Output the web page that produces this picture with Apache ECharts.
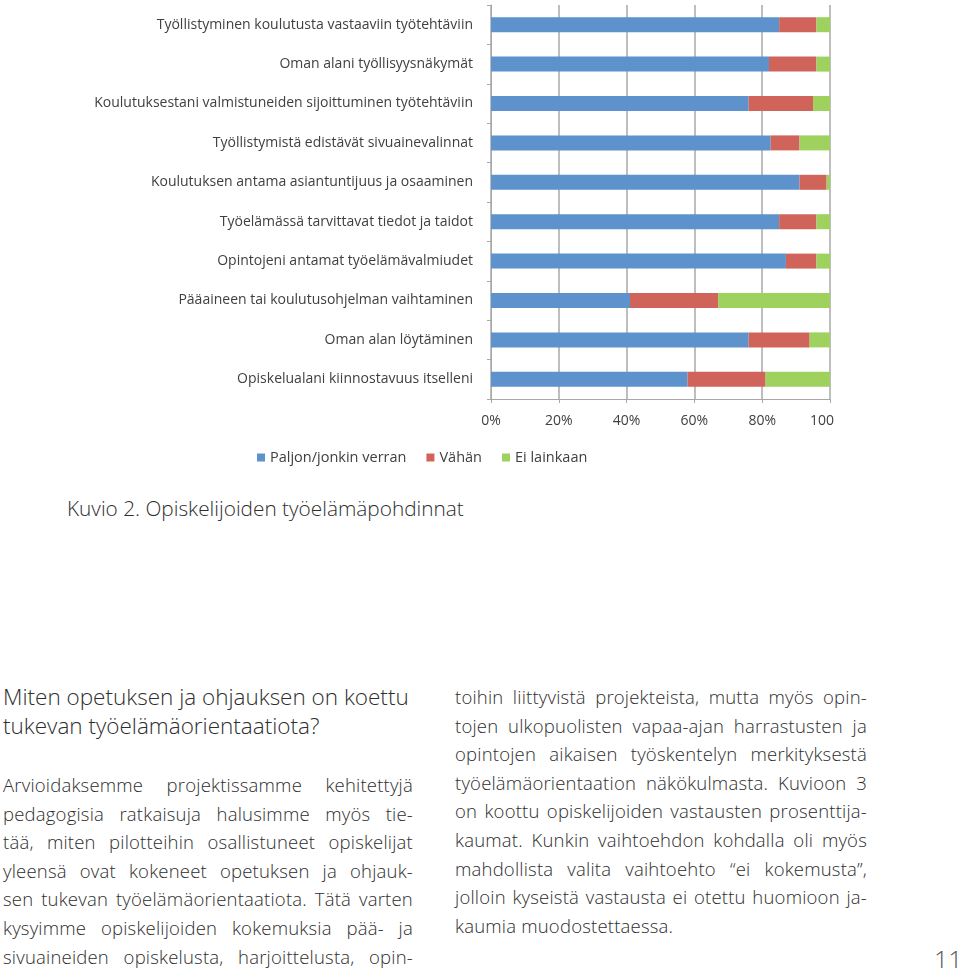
<!DOCTYPE html>
<html>
<head>
<meta charset="utf-8">
<script src="https://cdn.jsdelivr.net/npm/echarts@6/dist/echarts.min.js"></script>
<style>
  html, body { margin: 0; padding: 0; background: #fff; }
  body { width: 960px; height: 968px; position: relative; overflow: hidden; font-family: 'Open Sans', Lato, sans-serif; color: #2e2e2e; }
  #chart { position: absolute; left: 0; top: 0; width: 960px; height: 470px; }
  .caption { position: absolute; left: 67px; top: 494px; font-size: 20.8px; font-weight: 300; }
  .col { position: absolute; width: 410px; }
  .col div { height: 28.6px; line-height: 28.6px; white-space: nowrap; }
  .j { text-align: justify; text-align-last: justify; }
  .heading { left: 3px; top: 682px; font-size: 22.5px; font-weight: 300; }
  .heading div { height: 29px; line-height: 29px; }
  .body { font-size: 18.5px; font-weight: 300; letter-spacing: 0.2px; }
  .left { left: 3px; top: 771px; }
  .right { left: 455px; top: 683px; width: 412px; }
  .pageno { position: absolute; left: 934px; top: 942px; font-size: 25px; font-weight: 300; color: #555; }
</style>
</head>
<body>
<div id="chart"></div>
<div class="caption">Kuvio 2. Opiskelijoiden työelämäpohdinnat</div>
<div class="col heading">
  <div>Miten opetuksen ja ohjauksen on koettu</div>
  <div>tukevan työelämäorientaatiota?</div>
</div>
<div class="col body left">
  <div class="j">Arvioidaksemme projektissamme kehitettyjä</div>
  <div class="j">pedagogisia ratkaisuja halusimme myös tie-</div>
  <div class="j">tää, miten pilotteihin osallistuneet opiskelijat</div>
  <div class="j">yleensä ovat kokeneet opetuksen ja ohjauk-</div>
  <div class="j">sen tukevan työelämäorientaatiota. Tätä varten</div>
  <div class="j">kysyimme opiskelijoiden kokemuksia pää- ja</div>
  <div class="j">sivuaineiden opiskelusta, harjoittelusta, opin-</div>
</div>
<div class="col body right">
  <div class="j">toihin liittyvistä projekteista, mutta myös opin-</div>
  <div class="j">tojen ulkopuolisten vapaa-ajan harrastusten ja</div>
  <div class="j">opintojen aikaisen työskentelyn merkityksestä</div>
  <div class="j">työelämäorientaation näkökulmasta. Kuvioon 3</div>
  <div class="j">on koottu opiskelijoiden vastausten prosenttija-</div>
  <div class="j">kaumat. Kunkin vaihtoehdon kohdalla oli myös</div>
  <div class="j">mahdollista valita vaihtoehto “ei kokemusta”,</div>
  <div class="j">jolloin kyseistä vastausta ei otettu huomioon ja-</div>
  <div>kaumia muodostettaessa.</div>
</div>
<div class="pageno">11</div>
<script>
// kysymykset ylhäältä alas
const categories = [
  'Työllistyminen koulutusta vastaaviin työtehtäviin',
  'Oman alani työllisyysnäkymät',
  'Koulutuksestani valmistuneiden sijoittuminen työtehtäviin',
  'Työllistymistä edistävät sivuainevalinnat',
  'Koulutuksen antama asiantuntijuus ja osaaminen',
  'Työelämässä tarvittavat tiedot ja taidot',
  'Opintojeni antamat työelämävalmiudet',
  'Pääaineen tai koulutusohjelman vaihtaminen',
  'Oman alan löytäminen',
  'Opiskelualani kiinnostavuus itselleni'
]
const seriesNames = ['Paljon/jonkin verran', 'Vähän', 'Ei lainkaan']
const paljon = [85, 82, 76, 82.5, 91, 85, 87, 41, 76, 58]
const vahan = [11, 14, 19, 8.5, 8, 11, 9, 26, 18, 23]
const eiLainkaan = [4, 4, 5, 9, 1, 4, 4, 33, 6, 19]
const xTicks = [0, 20, 40, 60, 80, 100]

const colors = ['#5d92cc', '#d0645b', '#9fd15f']
const gridColor = '#a8a8a8'
const labelFont = { fontFamily: 'Open Sans', fontSize: 14, color: '#404040' }

const myChart = echarts.init(document.getElementById('chart'))

const option = {
  animation: false,
  color: colors,
  grid: { left: 491, right: 130, top: 5, height: 394 },
  legend: {
    data: seriesNames,
    left: 252,
    top: 445,
    icon: 'rect',
    itemWidth: 8,
    itemHeight: 8,
    itemGap: 20,
    textStyle: { ...labelFont, fontSize: 14.5 }
  },
  xAxis: {
    type: 'value',
    min: xTicks[0],
    max: xTicks[xTicks.length - 1],
    interval: 20,
    axisLine: { show: true, lineStyle: { color: gridColor } },
    axisTick: { show: true, length: 4, lineStyle: { color: gridColor } },
    splitLine: { show: true, lineStyle: { color: gridColor, width: 1.5 } },
    axisLabel: {
      ...labelFont,
      margin: 15,
      formatter: (v) => (v === 100 ? '{c|100}' : v + '%'),
      rich: { c: { ...labelFont, padding: [0, 16, 0, 0] } }
    }
  },
  yAxis: {
    type: 'category',
    inverse: true,
    data: categories,
    axisLine: { show: true, lineStyle: { color: gridColor } },
    axisTick: { show: true, length: 4, lineStyle: { color: gridColor } },
    axisLabel: { ...labelFont, margin: 18 }
  },
  series: [paljon, vahan, eiLainkaan].map((d, i) => ({
    name: seriesNames[i],
    type: 'bar',
    stack: 'total',
    barWidth: 15,
    data: d
  }))
}

myChart.setOption(option)
</script>
</body>
</html>
